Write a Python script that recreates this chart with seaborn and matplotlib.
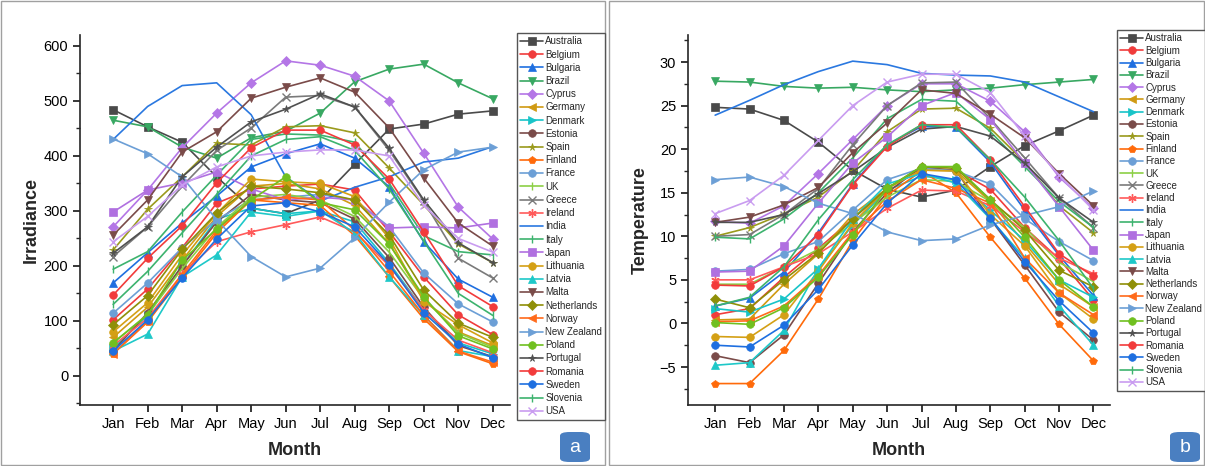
import numpy as np
import pandas as pd
import matplotlib
matplotlib.use("Agg")
import matplotlib.pyplot as plt
import seaborn as sns
from matplotlib.patches import Rectangle, FancyBboxPatch
from matplotlib.ticker import MultipleLocator

months = ["Jan", "Feb", "Mar", "Apr", "May", "Jun", "Jul", "Aug", "Sep", "Oct", "Nov", "Dec"]
countries = ["Australia", "Belgium", "Bulgaria", "Brazil", "Cyprus", "Germany", "Denmark",
             "Estonia", "Spain", "Finland", "France", "UK", "Greece", "Ireland", "India",
             "Italy", "Japan", "Lithuania", "Latvia", "Malta", "Netherlands", "Norway",
             "New Zealand", "Poland", "Portugal", "Romania", "Sweden", "Slovenia", "USA"]

# Monthly irradiance (W/m2)
irr_australia = [484, 453, 425, 362, 305, 295, 320, 385, 449, 458, 476, 482]
irr_belgium = [102, 158, 233, 314, 340, 345, 349, 338, 262, 180, 111, 75]
irr_bulgaria = [169, 224, 278, 327, 380, 404, 422, 396, 344, 244, 176, 143]
irr_brazil = [465, 453, 416, 396, 433, 445, 478, 535, 558, 567, 533, 504]
irr_cyprus = [271, 338, 415, 478, 533, 573, 565, 545, 500, 405, 307, 249]
irr_germany = [70, 125, 210, 290, 345, 350, 340, 310, 240, 140, 80, 55]
irr_denmark = [50, 110, 200, 285, 305, 295, 300, 280, 205, 120, 60, 40]
irr_estonia = [45, 115, 200, 280, 330, 320, 315, 285, 215, 125, 55, 35]
irr_spain = [229, 303, 362, 423, 420, 453, 455, 442, 378, 311, 240, 206]
irr_finland = [40, 98, 180, 260, 320, 315, 310, 255, 180, 104, 44, 22]
irr_france = [114, 169, 233, 284, 320, 325, 330, 320, 271, 187, 131, 98]
irr_uk = [60, 112, 195, 270, 325, 330, 320, 290, 225, 140, 78, 52]
irr_greece = [217, 271, 345, 410, 451, 507, 510, 489, 410, 318, 214, 178]
irr_ireland = [55, 105, 185, 244, 262, 275, 289, 262, 200, 120, 65, 42]
irr_india = [430, 490, 528, 533, 475, 362, 318, 343, 362, 389, 396, 417]
irr_italy = [194, 226, 298, 365, 430, 440, 438, 425, 350, 255, 226, 220]
irr_japan = [298, 338, 351, 371, 340, 320, 325, 320, 269, 271, 269, 278]
irr_lithuania = [80, 133, 220, 295, 358, 353, 350, 326, 250, 135, 93, 60]
irr_latvia = [45, 76, 180, 220, 298, 290, 300, 260, 180, 110, 46, 35]
irr_malta = [256, 320, 407, 444, 505, 525, 542, 516, 451, 360, 278, 236]
irr_netherlands = [93, 146, 230, 296, 345, 340, 333, 320, 256, 156, 96, 70]
irr_norway = [40, 100, 185, 265, 320, 325, 320, 265, 190, 110, 45, 25]
irr_new_zealand = [431, 404, 362, 284, 217, 180, 196, 251, 316, 375, 407, 416]
irr_poland = [60, 111, 210, 267, 320, 362, 315, 302, 240, 144, 73, 49]
irr_portugal = [223, 271, 362, 416, 462, 485, 513, 489, 414, 320, 242, 206]
irr_romania = [147, 214, 273, 351, 415, 447, 447, 420, 358, 262, 164, 126]
irr_sweden = [45, 102, 178, 249, 309, 315, 298, 271, 202, 115, 58, 33]
irr_slovenia = [130, 190, 260, 330, 400, 430, 435, 410, 340, 245, 150, 110]
irr_usa = [244, 290, 347, 380, 400, 407, 411, 411, 400, 310, 250, 225]

# Monthly mean temperature (deg C)
tmp_australia = [24.8, 24.6, 23.3, 20.8, 17.6, 15.4, 14.5, 15.3, 18.0, 20.4, 22.1, 23.9]
tmp_belgium = [1.0, 1.7, 5.3, 8.6, 12.0, 15.5, 17.8, 17.6, 15.4, 11.0, 7.4, 2.7]
tmp_bulgaria = [2.0, 2.9, 5.9, 10.4, 16.0, 20.5, 22.6, 22.5, 18.5, 13.0, 7.8, 3.2]
tmp_brazil = [27.8, 27.7, 27.2, 27.0, 27.1, 26.8, 26.6, 26.8, 27.0, 27.4, 27.7, 28.0]
tmp_cyprus = [11.7, 11.5, 13.5, 17.2, 21.1, 25.0, 27.5, 27.5, 25.5, 22.0, 16.8, 13.2]
tmp_germany = [0.4, 0.5, 4.5, 8.0, 12.5, 15.5, 17.6, 17.5, 14.0, 9.2, 4.5, 1.9]
tmp_denmark = [1.7, 1.3, 2.8, 6.3, 11.3, 15.3, 16.9, 16.5, 13.0, 9.5, 5.0, 3.0]
tmp_estonia = [-3.7, -4.5, -1.3, 4.6, 10.5, 15.0, 18.0, 17.5, 12.0, 6.7, 1.3, -1.9]
tmp_spain = [10.0, 11.0, 12.6, 14.5, 17.5, 22.0, 24.6, 24.7, 22.4, 18.5, 13.5, 10.4]
tmp_finland = [-6.9, -6.9, -3.1, 2.8, 9.5, 14.7, 17.5, 15.0, 9.9, 5.2, -0.1, -4.3]
tmp_france = [6.0, 6.2, 8.0, 9.4, 13.0, 16.5, 17.8, 17.5, 16.0, 12.0, 9.4, 7.2]
tmp_uk = [4.5, 4.5, 6.5, 8.5, 11.5, 14.5, 16.5, 16.3, 14.0, 11.0, 7.0, 4.8]
tmp_greece = [10.0, 10.2, 12.5, 15.5, 20.5, 25.0, 27.6, 27.7, 23.5, 19.0, 14.4, 11.0]
tmp_ireland = [5.0, 5.0, 6.5, 8.0, 10.5, 13.2, 15.3, 15.2, 13.5, 10.5, 7.5, 5.7]
tmp_india = [23.9, 25.6, 27.4, 28.9, 30.1, 29.7, 28.7, 28.5, 28.4, 27.7, 26.0, 24.3]
tmp_italy = [9.9, 9.7, 12.0, 15.0, 19.0, 23.5, 25.7, 25.5, 22.0, 18.0, 14.0, 11.0]
tmp_japan = [5.9, 6.0, 8.9, 13.8, 18.4, 21.4, 25.0, 26.5, 23.4, 18.4, 13.4, 8.4]
tmp_lithuania = [-1.5, -1.6, 1.0, 6.0, 11.5, 15.5, 17.6, 17.5, 12.5, 8.9, 3.5, 0.5]
tmp_latvia = [-4.8, -4.5, -0.8, 6.3, 12.0, 16.0, 17.2, 16.1, 12.0, 7.5, 2.0, -2.5]
tmp_malta = [11.6, 12.2, 13.6, 15.6, 19.6, 23.0, 26.8, 26.4, 24.0, 21.3, 17.2, 13.5]
tmp_netherlands = [2.8, 1.8, 5.0, 8.1, 12.0, 15.5, 18.0, 17.8, 14.2, 10.7, 6.1, 4.2]
tmp_norway = [0.2, 0.3, 2.0, 5.5, 10.5, 14.0, 16.5, 15.5, 13.8, 7.5, 3.5, 1.0]
tmp_new_zealand = [16.5, 16.8, 15.7, 13.8, 12.6, 10.5, 9.5, 9.7, 11.3, 12.4, 13.4, 15.2]
tmp_poland = [0.1, -0.1, 1.8, 5.3, 10.2, 15.5, 18.0, 18.0, 14.2, 9.9, 5.0, 1.9]
tmp_portugal = [11.6, 11.6, 12.5, 14.9, 17.4, 20.2, 22.3, 22.6, 21.5, 18.4, 14.4, 11.6]
tmp_romania = [4.4, 4.3, 6.5, 10.2, 15.9, 20.3, 22.8, 22.8, 18.8, 13.4, 8.0, 5.4]
tmp_sweden = [-2.5, -2.7, -0.2, 3.9, 9.0, 13.8, 17.2, 16.5, 12.1, 7.1, 2.6, -1.1]
tmp_slovenia = [2.0, 3.0, 6.5, 11.9, 16.5, 20.5, 22.8, 22.5, 18.8, 14.5, 9.5, 4.0]
tmp_usa = [12.6, 14.1, 17.0, 21.0, 25.0, 27.7, 28.6, 28.6, 26.5, 21.5, 17.0, 13.0]

irradiance = {
    "Australia": irr_australia, "Belgium": irr_belgium, "Bulgaria": irr_bulgaria,
    "Brazil": irr_brazil, "Cyprus": irr_cyprus, "Germany": irr_germany,
    "Denmark": irr_denmark, "Estonia": irr_estonia, "Spain": irr_spain,
    "Finland": irr_finland, "France": irr_france, "UK": irr_uk, "Greece": irr_greece,
    "Ireland": irr_ireland, "India": irr_india, "Italy": irr_italy, "Japan": irr_japan,
    "Lithuania": irr_lithuania, "Latvia": irr_latvia, "Malta": irr_malta,
    "Netherlands": irr_netherlands, "Norway": irr_norway, "New Zealand": irr_new_zealand,
    "Poland": irr_poland, "Portugal": irr_portugal, "Romania": irr_romania,
    "Sweden": irr_sweden, "Slovenia": irr_slovenia, "USA": irr_usa,
}
temperature = {
    "Australia": tmp_australia, "Belgium": tmp_belgium, "Bulgaria": tmp_bulgaria,
    "Brazil": tmp_brazil, "Cyprus": tmp_cyprus, "Germany": tmp_germany,
    "Denmark": tmp_denmark, "Estonia": tmp_estonia, "Spain": tmp_spain,
    "Finland": tmp_finland, "France": tmp_france, "UK": tmp_uk, "Greece": tmp_greece,
    "Ireland": tmp_ireland, "India": tmp_india, "Italy": tmp_italy, "Japan": tmp_japan,
    "Lithuania": tmp_lithuania, "Latvia": tmp_latvia, "Malta": tmp_malta,
    "Netherlands": tmp_netherlands, "Norway": tmp_norway, "New Zealand": tmp_new_zealand,
    "Poland": tmp_poland, "Portugal": tmp_portugal, "Romania": tmp_romania,
    "Sweden": tmp_sweden, "Slovenia": tmp_slovenia, "USA": tmp_usa,
}

# colour and marker for each country
styles = {
    "Australia": ("#4a4a4a", "s"), "Belgium": ("#f03c3c", "o"), "Bulgaria": ("#1f6fe0", "^"),
    "Brazil": ("#38a862", "v"), "Cyprus": ("#b476e6", "D"), "Germany": ("#d09a12", "<"),
    "Denmark": ("#18c4c8", ">"), "Estonia": ("#7a4b49", "o"), "Spain": ("#9a9a1c", "*"),
    "Finland": ("#ff6a0a", "p"), "France": ("#6c9fd6", "o"), "UK": ("#8ccf45", "|"),
    "Greece": ("#7a7a7a", "x"), "Ireland": ("#ff5a5a", (6, 2, 0)), "India": ("#2a78e0", None),
    "Italy": ("#3db36e", "|"), "Japan": ("#b070e0", "s"), "Lithuania": ("#d4a015", "o"),
    "Latvia": ("#1ec8c8", "^"), "Malta": ("#7a4b49", "v"), "Netherlands": ("#8f8f08", "D"),
    "Norway": ("#ff6a1a", "<"), "New Zealand": ("#6c9fd6", ">"), "Poland": ("#70c020", "o"),
    "Portugal": ("#505050", "*"), "Romania": ("#f23b3b", "o"), "Sweden": ("#1e6fe0", "o"),
    "Slovenia": ("#3db36e", "|"), "USA": ("#c99cf0", "x"),
}

sns.set_style("ticks")
plt.rcParams["font.family"] = ["Liberation Sans", "DejaVu Sans"]

W, H = 1205, 466
fig = plt.figure(figsize=(W / 100, H / 100), dpi=100)


def axes_px(left, top, right, bottom):
    return fig.add_axes([left / W, 1 - bottom / H, (right - left) / W, (bottom - top) / H])


def draw_panel(ax, values):
    x = np.arange(len(months))
    for name in countries:
        color, marker = styles[name]
        df = pd.DataFrame({"Month": x, "Value": values[name]})
        kw = dict(color=color, linewidth=1.2, label=name, errorbar=None, ax=ax)
        if marker is not None:
            line_art = marker in ("|", "x") or isinstance(marker, tuple)
            kw.update(marker=marker, markersize=6 if line_art else 5.5,
                      markeredgecolor=color, markeredgewidth=1.0 if line_art else 0.5)
        sns.lineplot(data=df, x="Month", y="Value", **kw)
    if ax.get_legend() is not None:
        ax.get_legend().remove()
    ax.set_xticks(x)
    ax.set_xticklabels(months)
    for s in ("top", "right"):
        ax.spines[s].set_visible(False)
    for s in ("left", "bottom"):
        ax.spines[s].set_linewidth(1.2)
    ax.tick_params(axis="both", which="major", direction="out", length=5, width=1.1,
                   labelsize=10.5, colors="black")
    ax.tick_params(axis="both", which="minor", direction="out", length=3, width=1.0)


ax1 = axes_px(80, 35, 510, 405)
draw_panel(ax1, irradiance)
ax1.set_xlim(-0.96, 11.5)
ax1.set_ylim(-53, 620)
ax1.set_yticks(np.arange(0, 601, 100))
ax1.yaxis.set_minor_locator(MultipleLocator(50))
ax1.set_xlabel("Month", fontsize=13, fontweight="bold", labelpad=8)
ax1.set_ylabel("Irradiance", fontsize=13, fontweight="bold", labelpad=3)

ax2 = axes_px(688, 35, 1110, 405)
draw_panel(ax2, temperature)
ax2.set_xlim(-0.79, 11.48)
ax2.set_ylim(-9.36, 33.1)
ax2.set_yticks(np.arange(-5, 31, 5))
ax2.yaxis.set_minor_locator(MultipleLocator(2.5))
ax2.set_xlabel("Month", fontsize=13, fontweight="bold", labelpad=8)
ax2.set_ylabel("Temperature", fontsize=13, fontweight="bold", labelpad=8)

# legends placed to the right of each plot
for ax, left, top, fs, sp in ((ax1, 517, 33, 7, 0.33), (ax2, 1117, 30, 7, 0.235)):
    handles, labels = ax.get_legend_handles_labels()
    fig.legend(handles, labels, loc="upper left", bbox_to_anchor=(left / W, 1 - top / H),
               fontsize=fs, labelspacing=sp, handlelength=2.3, handletextpad=0.25,
               borderpad=0.35, borderaxespad=0, frameon=True, fancybox=False,
               edgecolor="#555555", framealpha=1)

# panel frames and letter badges
for x0, x1 in ((1, 605), (609, 1204)):
    fig.patches.append(Rectangle((x0 / W, 1 / H), (x1 - x0) / W, (H - 2) / H,
                                 transform=fig.transFigure, fill=False,
                                 edgecolor="#a0a0a0", linewidth=1.0))
for cx, letter in ((575, "a"), (1185, "b")):
    fig.patches.append(FancyBboxPatch(((cx - 15) / W, (H - 462) / H), 30 / W, 30 / H,
                                      boxstyle="round,pad=0,rounding_size=0.008",
                                      transform=fig.transFigure, facecolor="#4a7fc1",
                                      edgecolor="none"))
    fig.text(cx / W, (H - 448) / H, letter, color="white", fontsize=14,
             ha="center", va="center")

fig.savefig("out.png", dpi=100)
